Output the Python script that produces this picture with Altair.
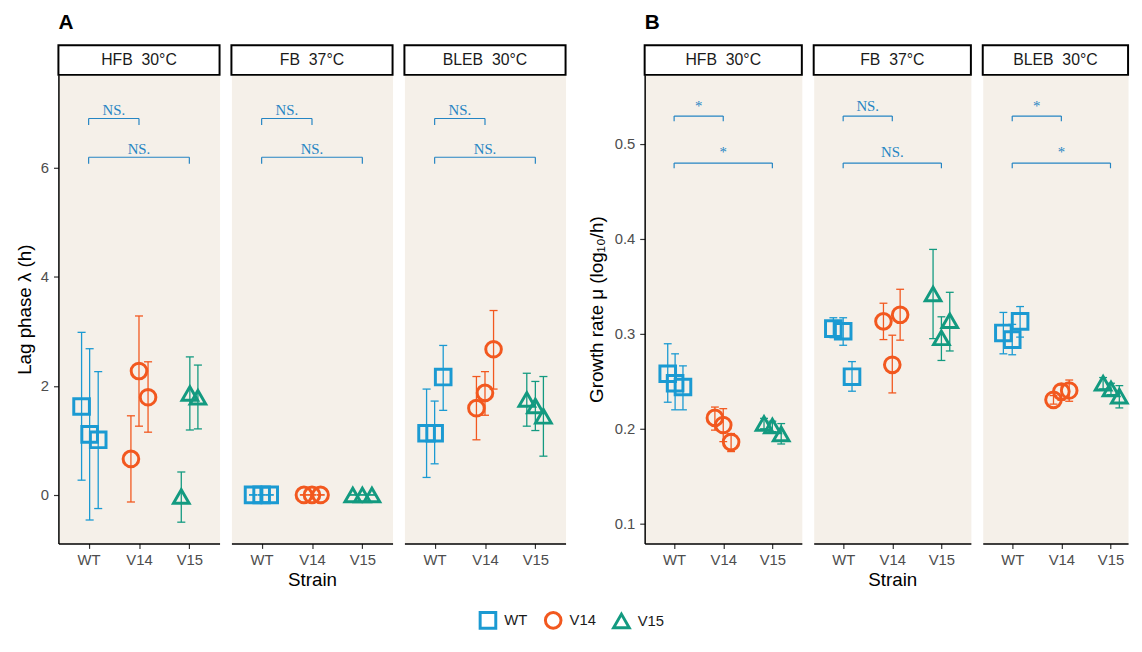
import altair as alt
import pandas as pd

STRAINS = ["WT", "V14", "V15"]
MEDIA = ["HFB\u00a0\u00a030°C", "FB\u00a0\u00a037°C", "BLEB\u00a0\u00a030°C"]
COLORS = ["#1B9AD2", "#F2581F", "#139A80"]
SHAPES = ["square", "circle", "triangle-up"]
SIZES = [250, 250, 480]
STRAIN_IDX = [0, 0, 0, 1, 1, 1, 2, 2, 2]

# ---- Panel A: lag phase (h) ----
lag_hfb_mean = [1.62, 1.11, 1.01, 0.66, 2.27, 1.79, -0.03, 1.86, 1.79]
lag_hfb_lo = [0.27, -0.46, -0.25, -0.13, 1.26, 1.15, -0.50, 1.19, 1.21]
lag_hfb_hi = [2.98, 2.68, 2.26, 1.45, 3.28, 2.44, 0.42, 2.53, 2.38]
lag_hfb_jit = [-0.14, 0.02, 0.19, -0.16, 0.0, 0.18, -0.16, 0.01, 0.17]

lag_fb_mean = [0.0, 0.0, 0.0, 0.0, 0.0, 0.0, 0.0, 0.0, 0.0]
lag_fb_lo = [0.0, 0.0, 0.0, 0.0, 0.0, 0.0, 0.0, 0.0, 0.0]
lag_fb_hi = [0.0, 0.0, 0.0, 0.0, 0.0, 0.0, 0.0, 0.0, 0.0]
lag_fb_jit = [-0.17, 0.0, 0.16, -0.16, 0.0, 0.17, -0.19, 0.0, 0.19]

lag_bleb_mean = [1.13, 1.13, 2.16, 1.59, 1.87, 2.67, 1.75, 1.63, 1.44]
lag_bleb_lo = [0.32, 0.57, 1.55, 1.01, 1.46, 1.94, 1.26, 1.18, 0.71]
lag_bleb_hi = [1.94, 1.72, 2.74, 2.17, 2.26, 3.38, 2.23, 2.08, 2.17]
lag_bleb_jit = [-0.16, 0.0, 0.17, -0.17, 0.0, 0.17, -0.17, 0.0, 0.16]

# ---- Panel B: growth rate (log10/h) ----
gr_hfb_mean = [0.258, 0.248, 0.244, 0.2115, 0.204, 0.186, 0.2055, 0.203, 0.1945]
gr_hfb_lo = [0.228, 0.220, 0.220, 0.1986, 0.1865, 0.176, 0.200, 0.197, 0.184]
gr_hfb_hi = [0.2896, 0.279, 0.2663, 0.2229, 0.2212, 0.195, 0.211, 0.208, 0.2055]
gr_hfb_jit = [-0.13, 0.02, 0.18, -0.17, 0.0, 0.16, -0.17, 0.0, 0.18]

gr_fb_mean = [0.3055, 0.3028, 0.2549, 0.3132, 0.2674, 0.3201, 0.342, 0.2958, 0.3139]
gr_fb_lo = [0.296, 0.288, 0.2396, 0.294, 0.2378, 0.2934, 0.295, 0.272, 0.282]
gr_fb_hi = [0.317, 0.317, 0.2708, 0.3323, 0.2986, 0.347, 0.389, 0.318, 0.3438]
gr_fb_jit = [-0.2, 0.0, 0.18, -0.18, 0.0, 0.16, -0.17, 0.0, 0.17]

gr_bleb_mean = [0.301, 0.294, 0.3132, 0.2305, 0.2392, 0.2403, 0.248, 0.242, 0.2344]
gr_bleb_lo = [0.279, 0.278, 0.2966, 0.226, 0.230, 0.229, 0.242, 0.236, 0.222]
gr_bleb_hi = [0.3226, 0.31, 0.3288, 0.235, 0.246, 0.2514, 0.254, 0.248, 0.2455]
gr_bleb_jit = [-0.18, 0.0, 0.16, -0.16, 0.0, 0.16, -0.15, 0.01, 0.18]

# ---- significance brackets ----
BRACKET_FROM = [0, 0]
BRACKET_TO = [1, 2]
lag_sig = [["NS.", "NS."], ["NS.", "NS."], ["NS.", "NS."]]
lag_sig_level = [6.90, 6.19]
lag_sig_text = [7.05, 6.34]
lag_sig_drop = 0.12
gr_sig = [["*", "*"], ["NS.", "NS."], ["*", "*"]]
gr_sig_level = [0.5295, 0.480]
gr_sig_text = [0.5405, 0.4912]
gr_sig_drop = 0.0055

FONT = "Liberation Sans"
BG = "#F5F0E9"
SIG_COLOR = "#2585C3"


def make_df(mean, lo, hi, jit):
    rows = []
    for i in range(9):
        s = STRAIN_IDX[i]
        rows.append(dict(Strain=STRAINS[s], pos=s + jit[i], mean=mean[i],
                         lo=lo[i], hi=hi[i], xl=s + jit[i] - 0.08, xr=s + jit[i] + 0.08))
    return pd.DataFrame(rows)


def make_sig(labels, levels, tlevels, drop):
    rows = []
    for k in range(2):
        rows.append(dict(x1=BRACKET_FROM[k], x2=BRACKET_TO[k],
                         xm=(BRACKET_FROM[k] + BRACKET_TO[k]) / 2,
                         lev=levels[k], low=levels[k] - drop,
                         tl=tlevels[k], lab=labels[k]))
    return pd.DataFrame(rows)


LEG = alt.Legend(orient="none", legendX=425, legendY=542, direction="horizontal", title=None)
color_enc = alt.Color("Strain:N", scale=alt.Scale(domain=STRAINS, range=COLORS), legend=LEG)
shape_enc = alt.Shape("Strain:N", scale=alt.Scale(domain=STRAINS, range=SHAPES), legend=LEG)
size_enc = alt.Size("Strain:N", scale=alt.Scale(domain=STRAINS, range=SIZES), legend=LEG)


def panel(df, sig, media, ydom, yticks, yfmt, ytitle, ytpad, width, xmax, first, middle, letter):
    height = 474
    xs = alt.Scale(domain=[-0.6, xmax], nice=False, zero=False)
    xaxis = alt.Axis(values=[0, 1, 2],
                     labelExpr="['WT','V14','V15'][datum.value]",
                     title="Strain" if middle else "", grid=False,
                     domainColor="#000000", domainWidth=1.5,
                     tickColor="#333333", tickSize=5, tickWidth=1.2,
                     labelColor="#4D4D4D", labelFontSize=15, labelFont=FONT, labelPadding=4,
                     titleFont=FONT, titleFontSize=19, titleFontWeight="normal",
                     titleColor="#000000", titlePadding=4)
    ys = alt.Scale(domain=ydom, nice=False, zero=False)
    if first:
        yaxis = alt.Axis(values=yticks, format=yfmt, title=ytitle, grid=False,
                         domainColor="#000000", domainWidth=1.5,
                         tickColor="#333333", tickSize=5, tickWidth=1.2,
                         labelColor="#4D4D4D", labelFontSize=15, labelFont=FONT, labelPadding=5,
                         titleFont=FONT, titleFontSize=19, titleFontWeight="normal",
                         titleColor="#000000", titlePadding=ytpad)
    else:
        yaxis = alt.Axis(labels=False, ticks=False, domain=False, grid=False, title="")

    base = alt.Chart(df)
    X = lambda f: alt.X(f, scale=xs, axis=xaxis)
    Y = lambda f: alt.Y(f, scale=ys, axis=yaxis)

    pts = base.mark_point(filled=False, strokeWidth=3, opacity=1).encode(
        x=X("pos:Q"), y=Y("mean:Q"), color=color_enc, shape=shape_enc, size=size_enc)
    err = base.mark_rule(strokeWidth=1.3).encode(
        x=X("pos:Q"), y=Y("lo:Q"), y2="hi:Q", color=color_enc)
    cap_lo = base.mark_rule(strokeWidth=1.3).encode(
        x=X("xl:Q"), x2="xr:Q", y=Y("lo:Q"), color=color_enc)
    cap_hi = base.mark_rule(strokeWidth=1.3).encode(
        x=X("xl:Q"), x2="xr:Q", y=Y("hi:Q"), color=color_enc)

    sb = alt.Chart(sig)
    br_h = sb.mark_rule(color=SIG_COLOR, strokeWidth=1.2).encode(
        x=X("x1:Q"), x2="x2:Q", y=Y("lev:Q"))
    br_l = sb.mark_rule(color=SIG_COLOR, strokeWidth=1.2).encode(
        x=X("x1:Q"), y=Y("low:Q"), y2="lev:Q")
    br_r = sb.mark_rule(color=SIG_COLOR, strokeWidth=1.2).encode(
        x=X("x2:Q"), y=Y("low:Q"), y2="lev:Q")
    br_t = sb.mark_text(color=SIG_COLOR, font="Liberation Serif", fontSize=15,
                        baseline="middle").encode(x=X("xm:Q"), y=Y("tl:Q"), text="lab:N")

    sd = alt.Chart(pd.DataFrame({"m": [media]}))
    strip = sd.mark_rect(fill="#FFFFFF", stroke="#000000", strokeWidth=2).encode(
        x=alt.value(0), x2=alt.value(width), y=alt.value(-30), y2=alt.value(0))
    strip_t = sd.mark_text(font=FONT, fontSize=16, color="#1A1A1A", baseline="middle").encode(
        x=alt.value(width / 2), y=alt.value(-14.5), text="m:N")

    layers = [pts, err, cap_lo, cap_hi, br_h, br_l, br_r, br_t, strip, strip_t]
    if letter:
        ld = alt.Chart(pd.DataFrame({"l": [letter]}))
        layers.append(ld.mark_text(font=FONT, fontSize=21, fontWeight="bold", color="#000000",
                                   align="left", baseline="alphabetic").encode(
            x=alt.value(0), y=alt.value(-46), text="l:N"))
    return alt.layer(*layers).properties(width=width, height=height)


lag_data = [(lag_hfb_mean, lag_hfb_lo, lag_hfb_hi, lag_hfb_jit),
            (lag_fb_mean, lag_fb_lo, lag_fb_hi, lag_fb_jit),
            (lag_bleb_mean, lag_bleb_lo, lag_bleb_hi, lag_bleb_jit)]
gr_data = [(gr_hfb_mean, gr_hfb_lo, gr_hfb_hi, gr_hfb_jit),
           (gr_fb_mean, gr_fb_lo, gr_fb_hi, gr_fb_jit),
           (gr_bleb_mean, gr_bleb_lo, gr_bleb_hi, gr_bleb_jit)]

a_panels = []
for i in range(3):
    a_panels.append(panel(make_df(*lag_data[i]),
                          make_sig(lag_sig[i], lag_sig_level, lag_sig_text, lag_sig_drop),
                          MEDIA[i], [-0.89, 7.70], [0, 2, 4, 6], "d", "Lag phase λ (h)", 6,
                          163, 2.6, i == 0, i == 1, "A" if i == 0 else ""))
b_panels = []
for i in range(3):
    b_panels.append(panel(make_df(*gr_data[i]),
                          make_sig(gr_sig[i], gr_sig_level, gr_sig_text, gr_sig_drop),
                          MEDIA[i], [0.0792, 0.5729], [0.1, 0.2, 0.3, 0.4, 0.5], ".1f",
                          "Growth rate μ (log₁₀/h)", 8,
                          159 if i < 2 else 147, 2.6 if i < 2 else 2.358,
                          i == 0, i == 1, "B" if i == 0 else ""))

A = alt.hconcat(*a_panels, spacing=8)
B = alt.hconcat(*b_panels, spacing=8)

chart = alt.hconcat(A, B, spacing=19).properties(
    padding={"left": 7, "top": 0, "right": 0, "bottom": 0}
).configure(
    font=FONT, background="#FFFFFF"
).configure_view(
    fill=BG, stroke="transparent"
).configure_legend(
    labelFontSize=15, labelFont=FONT, labelColor="#1A1A1A",
    symbolStrokeWidth=3, columnPadding=11, labelOffset=7
)

chart.save("out.html", embed_options={"renderer": "svg", "actions": False})
